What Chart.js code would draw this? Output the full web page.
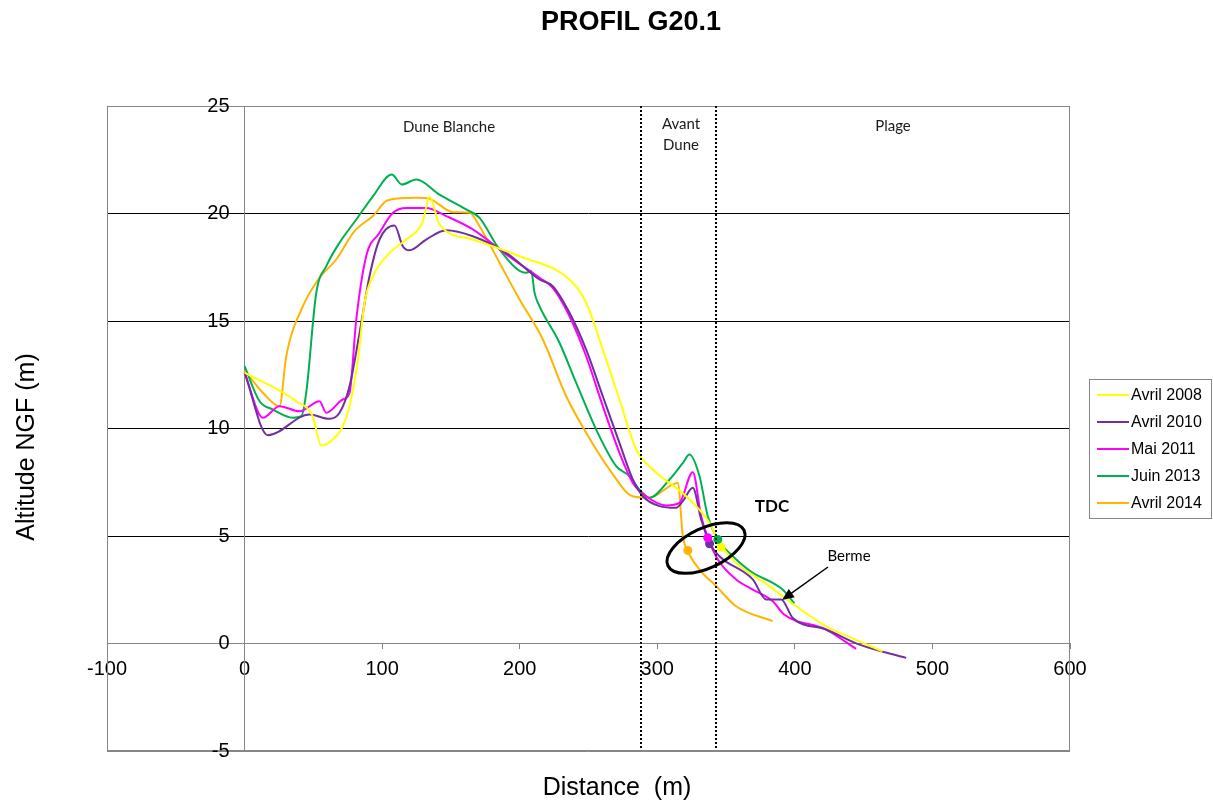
<!DOCTYPE html>
<html>
<head>
<meta charset="utf-8">
<title>Profil G20.1</title>
<script src="https://cdn.jsdelivr.net/npm/chart.js@4.4.1/dist/chart.umd.min.js"></script>
<style>
    html, body { margin: 0; padding: 0; background: #fff; }
    #wrap { width: 1213px; height: 803px; position: relative; }
</style>
</head>
<body>
<div id="wrap"><canvas id="profil-chart"></canvas></div>
<script>
const seriesLabels = ['Avril 2008', 'Avril 2010', 'Mai 2011', 'Juin 2013', 'Avril 2014'];
const seriesColors = ['#FFFF00', '#7030A0', '#FF00FF', '#00B050', '#FFB400'];

const dist2008 = [0, 37.6, 49.5, 55.7, 64.2, 71.4, 76.3, 82.4, 87.2, 93.3, 105.4, 117.5, 129.6, 134.4, 141.7, 165.9, 199.9, 236.2, 248.3, 260.4, 272.5, 284.7, 296.7, 321, 338, 345.2, 357.3, 381.5, 400.9, 422.7, 447, 463.7];
const alt2008  = [12.6, 11.27, 10.57, 9.21, 9.49, 10.1, 11.04, 13.2, 15.85, 17.08, 18.17, 18.79, 19.64, 20.78, 19.49, 18.79, 18.01, 16.93, 15.85, 13.67, 11.35, 9.02, 8.09, 6.85, 5.61, 4.68, 3.75, 2.67, 1.73, 0.8, 0.1, -0.36];

const dist2010 = [0, 16.9, 47.2, 61.8, 69, 76.3, 83.6, 90.8, 98.1, 109, 115, 119.9, 132, 146.6, 165.9, 190.2, 214.4, 224, 236.2, 248.3, 260.4, 272.5, 282.2, 289.5, 301.6, 313.7, 318.6, 325.8, 331.9, 338, 345.2, 369.4, 379.1, 390, 398.5, 422.7, 447, 480.9];
const alt2010  = [12.6, 9.69, 10.65, 10.45, 10.73, 11.97, 14.45, 17.08, 18.79, 19.44, 18.48, 18.29, 18.79, 19.22, 18.94, 18.17, 16.93, 16.62, 15.38, 13.67, 11.5, 9.33, 7.63, 6.85, 6.39, 6.31, 6.62, 7.24, 5.77, 4.68, 4.06, 2.98, 2.05, 2.05, 1.19, 0.65, -0.05, -0.67];

const dist2011 = [0, 13.3, 25.4, 40, 54.5, 59.4, 71.4, 76.3, 81.2, 88.4, 98.1, 107.8, 117.5, 132, 146.6, 165.9, 190.2, 214.4, 224, 236.2, 248.3, 260.4, 272.5, 282.2, 291.9, 306.5, 316.1, 325.8, 331.9, 336.7, 344, 357.3, 369.4, 383.9, 392.2, 422.7, 444.5];
const alt2011  = [12.6, 10.5, 11.04, 10.8, 11.27, 10.73, 11.35, 11.66, 15.07, 18.01, 19.1, 20.03, 20.26, 20.26, 19.88, 19.26, 18.1, 17.01, 16.54, 15.22, 13.36, 11.04, 8.87, 7.47, 6.85, 6.42, 6.54, 7.97, 5.92, 4.92, 3.91, 2.98, 2.51, 1.97, 1.35, 0.65, -0.25];

const dist2013 = [0, 10.9, 20.6, 35.1, 41.2, 44.8, 52.1, 59.4, 69, 81.2, 93.3, 107, 114.3, 124.8, 141.7, 161.1, 170.8, 185.3, 204.7, 208.4, 210.8, 213.2, 228.9, 241, 255.6, 270.1, 279.8, 287.1, 294.3, 308.9, 318.6, 323.4, 330.7, 336.7, 344, 354.9, 369.4, 383.9, 391.1, 399.7];
const alt2013  = [12.9, 11.27, 10.88, 10.5, 10.57, 11.66, 16.31, 17.55, 18.64, 19.72, 20.8, 21.81, 21.35, 21.58, 20.88, 20.19, 19.8, 18.33, 17.24, 17.32, 16.31, 15.85, 13.99, 12.13, 9.95, 8.25, 7.78, 7.16, 6.78, 7.63, 8.4, 8.79, 7.78, 5.92, 4.84, 4.06, 3.29, 2.82, 2.51, 1.86];

const dist2014 = [0, 13.3, 25.4, 30.3, 42.4, 54.5, 66.6, 79.9, 93.3, 104.1, 124.8, 134.4, 151.4, 163.5, 170.8, 185.3, 199.9, 216.8, 233.8, 248.3, 265.3, 282.2, 294.3, 314.9, 318.6, 322.2, 330.7, 342.8, 357.3, 383.9];
const alt2014  = [12.7, 11.66, 11.04, 13.36, 15.69, 17.01, 17.86, 19.18, 19.88, 20.62, 20.73, 20.68, 20.06, 20.03, 19.41, 17.71, 16, 14.14, 11.5, 9.8, 8.09, 6.85, 6.78, 7.47, 4.99, 4.29, 3.44, 2.67, 1.73, 1.04];

// Points TDC (top de côte) de chaque levé
const tdcDist = [346.4, 338, 336.7, 344, 322.2];
const tdcAlt  = [4.48, 4.64, 4.92, 4.84, 4.33];

// Limites des zones
const limitesZones = [288, 343];

const xTicks = [-100, 600, 100];   // min, max, pas
const yTicks = [-5, 25, 5];

const distances = [dist2008, dist2010, dist2011, dist2013, dist2014];
const altitudes = [alt2008, alt2010, alt2011, alt2013, alt2014];

function toPoints(xs, ys) {
    return xs.map((x, i) => ({ x: x, y: ys[i] }));
}

const datasets = seriesLabels.map((label, i) => ({
    label: label,
    data: toPoints(distances[i], altitudes[i]),
    borderColor: seriesColors[i],
    backgroundColor: seriesColors[i],
    borderWidth: 2,
    pointRadius: 0,
    cubicInterpolationMode: 'monotone',
    fill: false
}));

datasets.push({
    label: 'TDC',
    data: toPoints(tdcDist, tdcAlt),
    showLine: false,
    pointRadius: 4.5,
    pointBorderWidth: 0,
    pointBackgroundColor: seriesColors,
    order: -1
});

/**
 * Décorations : titre, zones, ellipse TDC, flèche berme, légende
 */
const decorations = {
    id: 'decorations',
    afterDraw(chart) {
        const ctx = chart.ctx;
        const area = chart.chartArea;
        const sx = chart.scales.x;
        const sy = chart.scales.y;

        ctx.save();

        // Cadre de la zone de tracé
        ctx.strokeStyle = '#868686';
        ctx.lineWidth = 1;
        ctx.strokeRect(area.left + 0.5, area.top + 0.5, area.right - area.left - 1, area.bottom - area.top - 1);

        // Graduations de l'axe vertical, à gauche de l'axe x = 0
        const axeX = sx.getPixelForValue(0);
        ctx.fillStyle = '#000';
        ctx.font = '20px "Liberation Sans"';
        ctx.textAlign = 'right';
        ctx.textBaseline = 'middle';
        sy.ticks.forEach(t => {
            ctx.fillText(String(t.value), axeX - 15, sy.getPixelForValue(t.value));
        });

        // Limites en pointillés
        ctx.strokeStyle = '#000';
        ctx.lineWidth = 2;
        ctx.setLineDash([2, 2]);
        limitesZones.forEach(v => {
            const px = Math.round(sx.getPixelForValue(v));
            ctx.beginPath();
            ctx.moveTo(px, area.top);
            ctx.lineTo(px, area.bottom - 2);
            ctx.stroke();
        });
        ctx.setLineDash([]);

        // Noms des zones
        ctx.fillStyle = '#1a1a1a';
        ctx.font = '15px Lato';
        ctx.textAlign = 'center';
        ctx.fillText('Dune Blanche', 449, 127);
        ctx.fillText('Avant', 681, 124);
        ctx.fillText('Dune', 681, 145);
        ctx.fillText('Plage', 893, 126);

        // Ellipse TDC
        ctx.strokeStyle = '#000';
        ctx.lineWidth = 3;
        ctx.beginPath();
        ctx.ellipse(706, 548, 42, 20, -25 * Math.PI / 180, 0, Math.PI * 2);
        ctx.stroke();

        ctx.font = 'bold 17px Lato';
        ctx.fillStyle = '#000';
        ctx.fillText('TDC', 772, 507);

        // Flèche berme
        ctx.font = '15px Lato';
        ctx.fillText('Berme', 849, 556);
        const x1 = 828, y1 = 567, x2 = 782, y2 = 600;
        const ang = Math.atan2(y2 - y1, x2 - x1);
        ctx.lineWidth = 1.5;
        ctx.beginPath();
        ctx.moveTo(x1, y1);
        ctx.lineTo(x2 - 10 * Math.cos(ang), y2 - 10 * Math.sin(ang));
        ctx.stroke();
        ctx.beginPath();
        ctx.moveTo(x2, y2);
        ctx.lineTo(x2 - 13 * Math.cos(ang - 0.4), y2 - 13 * Math.sin(ang - 0.4));
        ctx.lineTo(x2 - 13 * Math.cos(ang + 0.4), y2 - 13 * Math.sin(ang + 0.4));
        ctx.closePath();
        ctx.fill();

        // Titre
        ctx.font = 'bold 27px "Liberation Sans"';
        ctx.fillText('PROFIL G20.1', 631, 23);

        // Titres des axes
        ctx.font = '25px "Liberation Sans"';
        ctx.fillText('Distance  (m)', 617, 788);
        ctx.save();
        ctx.translate(27, 447);
        ctx.rotate(-Math.PI / 2);
        ctx.fillText('Altitude NGF (m)', 0, 0);
        ctx.restore();

        // Légende
        ctx.strokeStyle = '#868686';
        ctx.lineWidth = 1;
        ctx.strokeRect(1089.5, 379.5, 122, 139);
        ctx.font = '16px "Liberation Sans"';
        ctx.textAlign = 'left';
        const legendY = [395, 422, 449, 476, 503];
        seriesLabels.forEach((label, i) => {
            ctx.strokeStyle = seriesColors[i];
            ctx.lineWidth = 2;
            ctx.beginPath();
            ctx.moveTo(1097, legendY[i]);
            ctx.lineTo(1129, legendY[i]);
            ctx.stroke();
            ctx.fillStyle = '#000';
            ctx.fillText(label, 1131, legendY[i] + 1);
        });

        ctx.restore();
    }
};

const chart = new Chart(document.getElementById('profil-chart'), {
    type: 'line',
    data: { datasets: datasets },
    plugins: [decorations],
    options: {
        responsive: true,
        maintainAspectRatio: false,
        animation: false,
        layout: {
            padding: { left: 107, top: 106, right: 143, bottom: 52 }
        },
        plugins: {
            legend: { display: false },
            tooltip: { enabled: false }
        },
        scales: {
            x: {
                type: 'linear',
                position: { y: 0 },
                min: xTicks[0],
                max: xTicks[1],
                ticks: {
                    stepSize: xTicks[2],
                    color: '#000',
                    padding: 9,
                    font: { family: 'Liberation Sans', size: 20 }
                },
                grid: {
                    drawOnChartArea: false,
                    drawTicks: true,
                    tickLength: 5,
                    color: '#868686'
                },
                border: { color: '#868686' }
            },
            y: {
                type: 'linear',
                position: { x: 0 },
                min: yTicks[0],
                max: yTicks[1],
                ticks: {
                    stepSize: yTicks[2],
                    display: false
                },
                grid: {
                    // lignes noires, bords du cadre en gris
                    color: c => (c.tick && (c.tick.value === yTicks[0] || c.tick.value === yTicks[1])) ? '#868686' : '#000',
                    tickLength: 5
                },
                border: { color: '#868686' }
            }
        }
    }
});
</script>
</body>
</html>
